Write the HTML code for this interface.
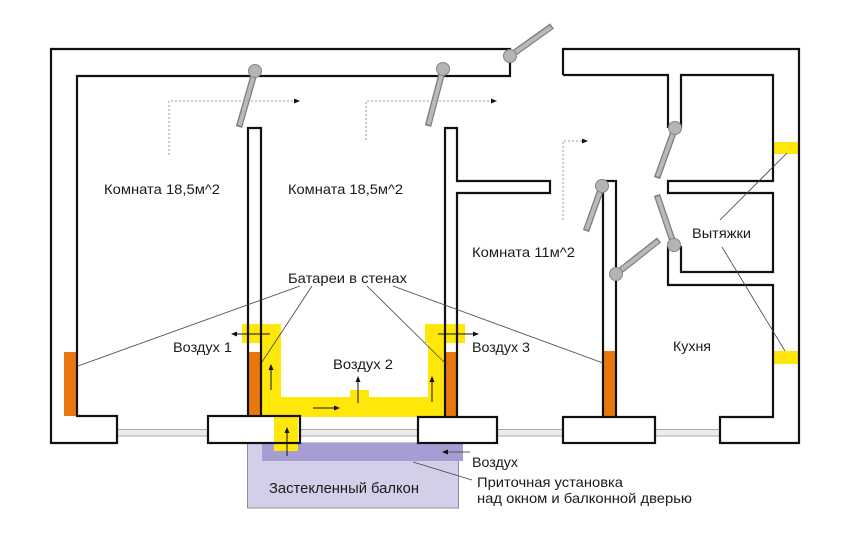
<!DOCTYPE html>
<html>
<head>
<meta charset="utf-8">
<style>
  html,body{margin:0;padding:0;background:#fff;}
  svg{display:block;}
  text{font-family:"Liberation Sans",Arial,sans-serif;font-size:14px;fill:#1a1a1a;}
</style>
</head>
<body>
<svg width="850" height="533" viewBox="0 0 850 533" xmlns="http://www.w3.org/2000/svg">
  <defs>
    <marker id="ah" markerWidth="6" markerHeight="6" refX="5" refY="3" orient="auto" markerUnits="userSpaceOnUse">
      <path d="M0,0.5 L6,3 L0,5.5 Z" fill="#111"/>
    </marker>
  </defs>
  <rect width="850" height="533" fill="#fff"/>

  <!-- balcony -->
  <rect x="247.5" y="443" width="211" height="65" fill="#d4cfe8" stroke="#8e8ca2" stroke-width="1"/>
  <rect x="262" y="443" width="201" height="18" fill="#a69ed2"/>

  <!-- windows -->
  <g fill="#ececec" stroke="#a8a8a8" stroke-width="1">
    <rect x="117" y="429.5" width="91" height="6.5"/>
    <rect x="300" y="429.5" width="118" height="6.5"/>
    <rect x="497" y="429.5" width="66" height="6.5"/>
    <rect x="655" y="429.5" width="65" height="6.5"/>
  </g>

  <!-- yellow air channels -->
  <g fill="#ffe70a">
    <rect x="242" y="324" width="39" height="19"/>
    <rect x="261" y="324" width="20" height="93"/>
    <rect x="261" y="397" width="184" height="20"/>
    <rect x="428" y="324" width="17" height="93"/>
    <rect x="425" y="324" width="40" height="19"/>
    <rect x="350" y="390" width="19" height="8"/>
    <rect x="274" y="416" width="24" height="35"/>
    <rect x="773" y="142" width="26" height="12"/>
    <rect x="773" y="351" width="26" height="13"/>
  </g>

  <!-- orange radiators -->
  <g fill="#e8780e">
    <rect x="64" y="352" width="13" height="64"/>
    <rect x="248" y="352" width="13" height="65"/>
    <rect x="445" y="352" width="13" height="65"/>
    <rect x="603" y="351" width="13" height="66"/>
  </g>

  <!-- walls -->
  <g fill="none" stroke="#111" stroke-width="2.2" stroke-linejoin="miter">
    <path d="M51,443 L51,49 L510,49 L510,76 L77,76 L77,416 L117,416 L117,443 Z"/>
    <path d="M563,75 L563,49 L799,49 L799,443 L720,443 L720,417 L773,417 L773,285 L668,285 L668,246"/>
    <path d="M563,75 L668,75 L668,128"/>
    <path d="M681,128 L681,75 L773,75 L773,181 L668,181 L668,193 L773,193 L773,272 L681,272 L681,246"/>
    <path d="M248,416 L248,128 L261,128 L261,416"/>
    <rect x="208" y="416" width="92" height="27"/>
    <path d="M445,417 L445,128 L457,128 L457,181 L550,181 L550,193 L457,193 L457,417"/>
    <rect x="418" y="417" width="79" height="26"/>
    <path d="M603,417 L603,181 L616,181 L616,417"/>
    <rect x="563" y="417" width="92" height="26"/>
  </g>

  <!-- doors -->
  <g stroke-linecap="butt">
    <g stroke="#7d7d7d" stroke-width="6.5">
      <line x1="255" y1="71" x2="239" y2="127"/>
      <line x1="443" y1="69" x2="428" y2="126"/>
      <line x1="510" y1="56" x2="552" y2="26"/>
      <line x1="675" y1="128" x2="657" y2="178"/>
      <line x1="674" y1="245" x2="657" y2="195"/>
      <line x1="602" y1="186" x2="586" y2="231"/>
      <line x1="616" y1="274" x2="659" y2="240"/>
    </g>
    <g stroke="#b9b9b9" stroke-width="4">
      <line x1="255" y1="71" x2="239.5" y2="125.5"/>
      <line x1="443" y1="69" x2="428.5" y2="124.5"/>
      <line x1="510" y1="56" x2="551" y2="27"/>
      <line x1="675" y1="128" x2="657.5" y2="176.5"/>
      <line x1="674" y1="245" x2="657.5" y2="196.5"/>
      <line x1="602" y1="186" x2="586.5" y2="229.5"/>
      <line x1="616" y1="274" x2="658" y2="241"/>
    </g>
    <g fill="#b4b4b4" stroke="#858585" stroke-width="1">
      <circle cx="255" cy="71" r="6.5"/>
      <circle cx="443" cy="69" r="6.5"/>
      <circle cx="510" cy="56" r="6.5"/>
      <circle cx="675" cy="128" r="6.5"/>
      <circle cx="674" cy="245" r="6.5"/>
      <circle cx="602" cy="186" r="6.5"/>
      <circle cx="616" cy="274" r="6.5"/>
    </g>
  </g>

  <!-- dotted flow arrows -->
  <g fill="none" stroke="#9a9a9a" stroke-width="1" stroke-dasharray="2 2">
    <path d="M169,155 L169,101 L297,101"/>
    <path d="M366,140 L366,101 L494,101"/>
    <path d="M563,220 L563,141 L585,141"/>
  </g>
  <g fill="#111">
    <path d="M300,101 L294,98.5 L294,103.5 Z"/>
    <path d="M497,101 L491,98.5 L491,103.5 Z"/>
    <path d="M588,141 L582,138.5 L582,143.5 Z"/>
  </g>

  <!-- small air arrows -->
  <g stroke="#111" stroke-width="1" fill="none" marker-end="url(#ah)">
    <line x1="270" y1="334" x2="232" y2="334"/>
    <line x1="271" y1="390" x2="271" y2="365"/>
    <line x1="313" y1="408" x2="339" y2="408"/>
    <line x1="358" y1="403" x2="358" y2="377"/>
    <line x1="432" y1="402" x2="432" y2="377"/>
    <line x1="438" y1="334" x2="478" y2="334"/>
    <line x1="287" y1="456" x2="287" y2="428"/>
  </g>
  <line x1="470" y1="452" x2="443" y2="452" stroke="#555" stroke-width="1" marker-end="url(#ah)"/>

  <!-- leader lines -->
  <g stroke="#444" stroke-width="0.8" fill="none">
    <line x1="300" y1="286" x2="78" y2="366"/>
    <line x1="312" y1="286" x2="262" y2="362"/>
    <line x1="367" y1="286" x2="445" y2="363"/>
    <line x1="393" y1="286" x2="603" y2="363"/>
    <line x1="720" y1="220" x2="787" y2="153"/>
    <line x1="722" y1="247" x2="785" y2="351"/>
    <line x1="413" y1="462" x2="472" y2="480"/>
  </g>

  <!-- labels -->
  <text x="104" y="194" textLength="116" lengthAdjust="spacingAndGlyphs">Комната 18,5м^2</text>
  <text x="288" y="194" textLength="115" lengthAdjust="spacingAndGlyphs">Комната 18,5м^2</text>
  <text x="472" y="257" textLength="103" lengthAdjust="spacingAndGlyphs">Комната 11м^2</text>
  <text x="288" y="283" textLength="119" lengthAdjust="spacingAndGlyphs">Батареи в стенах</text>
  <text x="692" y="238" textLength="59" lengthAdjust="spacingAndGlyphs">Вытяжки</text>
  <text x="173" y="352" textLength="59" lengthAdjust="spacingAndGlyphs">Воздух 1</text>
  <text x="333" y="369" textLength="60" lengthAdjust="spacingAndGlyphs">Воздух 2</text>
  <text x="472" y="352" textLength="58" lengthAdjust="spacingAndGlyphs">Воздух 3</text>
  <text x="673" y="351" textLength="38" lengthAdjust="spacingAndGlyphs">Кухня</text>
  <text x="269" y="493" textLength="150" lengthAdjust="spacingAndGlyphs" style="font-size:14.5px">Застекленный балкон</text>
  <text x="472" y="467" textLength="46" lengthAdjust="spacingAndGlyphs">Воздух</text>
  <text x="477" y="487" textLength="146" lengthAdjust="spacingAndGlyphs">Приточная установка</text>
  <text x="477" y="503" textLength="215" lengthAdjust="spacingAndGlyphs">над окном и балконной дверью</text>
</svg>
</body>
</html>
